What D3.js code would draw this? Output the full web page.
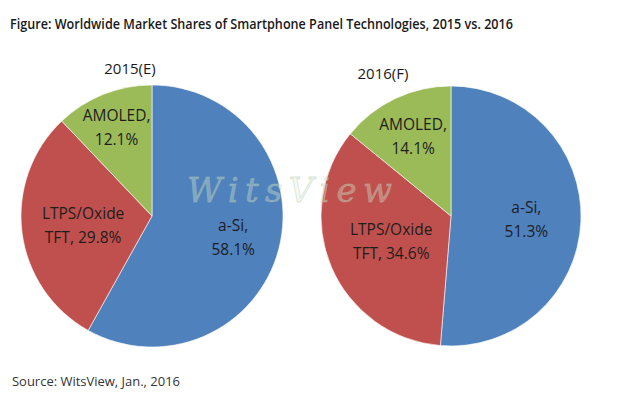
<!DOCTYPE html>
<html>
<head>
<meta charset="utf-8">
<script src="https://cdn.jsdelivr.net/npm/d3@7"></script>
<style>
  html, body { margin: 0; padding: 0; background: #fff; }
  svg { display: block; }
</style>
</head>
<body>
<svg id="chart" width="620" height="394"></svg>
<script>
// ---- data ----
const categories = ["a-Si", "LTPS/Oxide TFT", "AMOLED"];
const labelLine1 = ["a-Si,", "LTPS/Oxide", "AMOLED,"];
const labelLine2Prefix = ["", "TFT, ", ""];
const years = ["2015(E)", "2016(F)"];
const shares2015 = [58.1, 29.8, 12.1];
const shares2016 = [51.3, 34.6, 14.1];
const colors = ["#4f81bd", "#c0504d", "#9bbb59"];
const titleText = "Figure: Worldwide Market Shares of Smartphone Panel Technologies, 2015 vs. 2016";
const sourceText = "Source: WitsView, Jan., 2016";

// ---- layout ----
const W = 620, H = 394;
const svg = d3.select("#chart");
const font = "'Open Sans', 'Noto Sans', sans-serif";
const pies = [
  { values: shares2015, year: years[0], cx: 152, cy: 216, r: 131, yearX: 130, yearY: 74, labelR: [0.64, 0.53, 0.73] },
  { values: shares2016, year: years[1], cx: 451, cy: 216, r: 130, yearX: 383, yearY: 79, labelR: [0.58, 0.50, 0.68] }
];

svg.append("text")
  .attr("x", 10).attr("y", 29)
  .attr("font-family", font).attr("font-size", 14.5).attr("font-weight", 600)
  .attr("fill", "#1a1a1a")
  .attr("textLength", 503).attr("lengthAdjust", "spacingAndGlyphs")
  .text(titleText);

const pieGen = d3.pie().sort(null).value(d => d);

pies.forEach(p => {
  const g = svg.append("g").attr("transform", `translate(${p.cx},${p.cy})`);
  const arc = d3.arc().innerRadius(0).outerRadius(p.r);
  const arcs = pieGen(p.values);
  g.selectAll("path.slice").data(arcs).enter().append("path")
    .attr("class", "slice")
    .attr("d", arc)
    .attr("fill", (d, i) => colors[i])
    .attr("stroke", "#ffffff").attr("stroke-width", 0.6);

  svg.append("text")
    .attr("x", p.yearX).attr("y", p.yearY)
    .attr("text-anchor", "middle")
    .attr("font-family", font).attr("font-size", 15)
    .attr("fill", "#1a1a1a")
    .text(p.year);

  const lab = g.selectAll("g.lab").data(arcs).enter().append("g")
    .attr("class", "lab")
    .attr("transform", (d, i) => {
      const a = (d.startAngle + d.endAngle) / 2;
      const rr = p.r * p.labelR[i];
      return `translate(${rr * Math.sin(a)},${-rr * Math.cos(a)})`;
    });
  lab.append("text")
    .attr("text-anchor", "middle").attr("y", -6)
    .attr("font-family", font).attr("font-size", 15.5)
    .attr("fill", "#1d1d1d")
    .text((d, i) => labelLine1[i]);
  lab.append("text")
    .attr("text-anchor", "middle").attr("y", 18)
    .attr("font-family", font).attr("font-size", 15.5)
    .attr("fill", "#1d1d1d")
    .text((d, i) => labelLine2Prefix[i] + d3.format(".1f")(d.data) + "%");
});

// watermark
svg.append("text")
  .attr("x", 187).attr("y", 202)
  .attr("font-family", "'DejaVu Serif', 'Liberation Serif', serif")
  .attr("font-style", "italic").attr("font-size", 34)
  .attr("textLength", 205).attr("lengthAdjust", "spacing")
  .attr("fill", "#e3eedc").attr("fill-opacity", 0.35)
  .attr("stroke", "#a9c6a6").attr("stroke-opacity", 0.45).attr("stroke-width", 0.8)
  .text("WitsView");

svg.append("text")
  .attr("x", 12).attr("y", 386)
  .attr("font-family", font).attr("font-size", 12)
  .attr("fill", "#333")
  .attr("textLength", 168).attr("lengthAdjust", "spacingAndGlyphs")
  .text(sourceText);
</script>
</body>
</html>
